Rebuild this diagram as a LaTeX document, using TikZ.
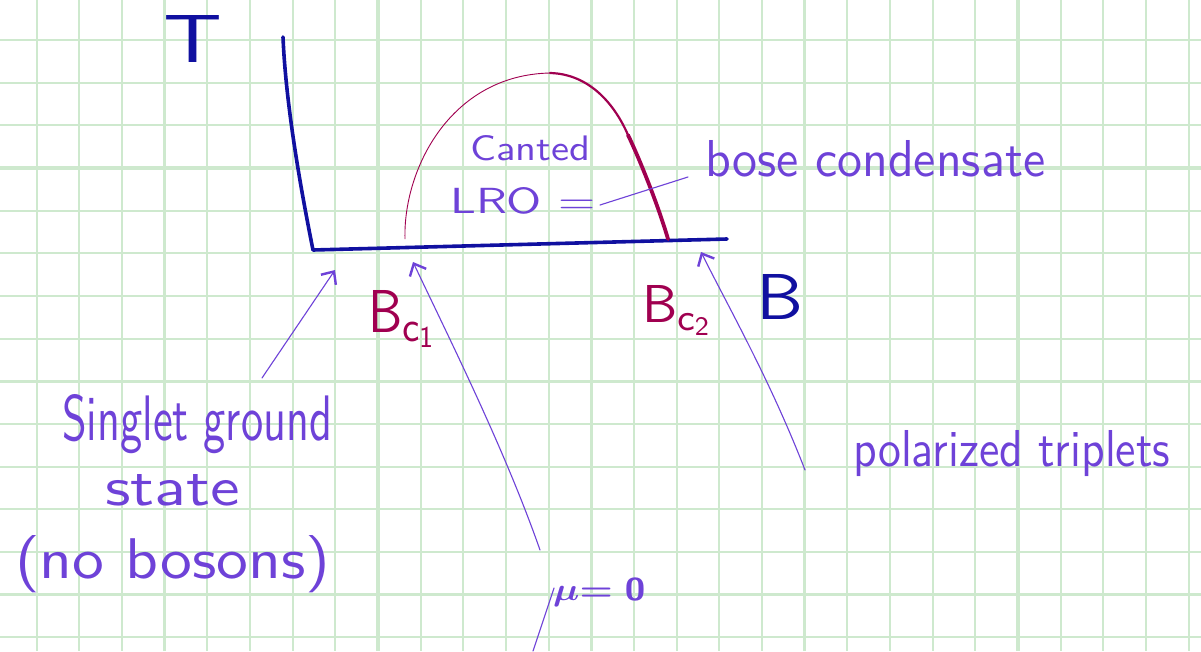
\documentclass[tikz,border=0pt]{standalone}
\usetikzlibrary{arrows.meta}
\definecolor{gridg}{RGB}{206,233,206}
\definecolor{axisblue}{RGB}{16,16,160}
\definecolor{inkpurple}{RGB}{110,66,216}
\definecolor{inkred}{RGB}{160,0,80}
\newcommand\hw[3]{\resizebox{#1pt}{#2pt}{#3}}
\begin{document}
\begin{tikzpicture}[x=1pt,y=-1pt,
  gridthin/.style={gridg,line width=2pt},
  gridthick/.style={gridg,line width=3.2pt},
  axisline/.style={axisblue,line width=3.6pt,line cap=round,line join=round},
  lbl/.style={inner sep=0pt,anchor=base west,text=inkpurple,font=\sffamily},
  redlbl/.style={inner sep=0pt,anchor=base west,text=inkred,font=\sffamily},
  bluelbl/.style={inner sep=0pt,anchor=base west,text=axisblue,font=\sffamily},
  pointer/.style={inkpurple,line width=1.1pt,line cap=round,
    -{Straight Barb[length=10pt,width=18pt,line width=2.4pt]}},
  leader/.style={inkpurple,line width=1.1pt,line cap=round}]
\useasboundingbox (0,0) rectangle (1201,651);
\fill[white] (0,0) rectangle (1201,651);
% grid paper
\foreach \k in {0,...,27}{\pgfmathsetmacro\xx{36.7+42.667*\k}
  \draw[gridthin] (\xx,0) -- (\xx,651);}
\foreach \k in {-1,...,14}{\pgfmathsetmacro\yy{40+42.667*\k}
  \draw[gridthin] (0,\yy) -- (1201,\yy);}
\foreach \k in {3,8,13,18,23}{\pgfmathsetmacro\xx{36.7+42.667*\k}
  \draw[gridthick] (\xx,0) -- (\xx,651);}
\foreach \k in {-2,3,8,13}{\pgfmathsetmacro\yy{40+42.667*\k}
  \draw[gridthick] (0,\yy) -- (1201,\yy);}
% axes
\coordinate (ytop) at (283,37);
\coordinate (origin) at (313,250);
\coordinate (xend) at (727,239);
\draw[axisline] (ytop) .. controls (286,110) and (303,200) .. (origin) -- (xend);
% dome
\coordinate (d0) at (405,239);
\coordinate (dtop) at (550,73);
\coordinate (d1) at (628,135);
\coordinate (d2) at (668,239);
\draw[inkred,line width=0.9pt] (d0) .. controls (403,170) and (450,75) .. (dtop);
\draw[inkred,line width=2.2pt,line cap=round] (dtop) .. controls (590,74) and (615,105) .. (d1);
\draw[inkred,line width=3.8pt,line cap=round] (d1) .. controls (640,160) and (658,205) .. (d2);
% labels
\node[bluelbl] (T) at (163,62) {\hw{59}{47}{T}};
\node[bluelbl] (B) at (756,319) {\hw{47}{45}{B}};
\node[redlbl] (bc1) at (368,332) {\hw{70}{42}{B$_{\mathsf{c}_{\mathsf{1}}}$}};
\node[redlbl] (bc2) at (642,322) {\hw{72}{37}{B$_{\mathsf{c}_{\mathsf{2}}}$}};
\node[lbl] (canted) at (470,160) {\hw{120}{25}{Canted}};
\node[lbl] (lro) at (450,213) {\hw{145}{26}{LRO =}};
\node[lbl] (bose) at (705,176) {\hw{340}{36}{bose condensate}};
\node[lbl] (singlet) at (62,440) {\hw{270}{46}{Singlet ground}};
\node[lbl] (state) at (105,505) {\hw{135}{31}{state}};
\node[lbl] (nobos) at (15,578) {\hw{315}{43}{(no bosons)}};
\node[lbl] (mu) at (553,600) {\hw{92}{22}{\boldmath$\mu\mathsf{=0}$}};
\node[lbl] (pol) at (853,466) {\hw{317}{36}{polarized triplets}};
% connectors
\coordinate (t1) at (335,270);
\coordinate (s1) at (262,378);
\coordinate (t2) at (413,262);
\coordinate (s2) at (540,550);
\coordinate (t3) at (701,252);
\coordinate (s3) at (805,470);
\coordinate (bs) at (688,177);
\coordinate (be) at (600,205);
\coordinate (mutail) at (533,651);
\draw[pointer] (s1) -- (t1);
\draw[pointer] (s2) .. controls (505,450) and (450,340) .. (t2);
\draw[pointer] (s3) .. controls (770,380) and (730,310) .. (t3);
\draw[leader] (bs) -- (be);
\draw[leader] (mu.base west) ++(1,-12) -- (mutail);
\end{tikzpicture}
\end{document}
